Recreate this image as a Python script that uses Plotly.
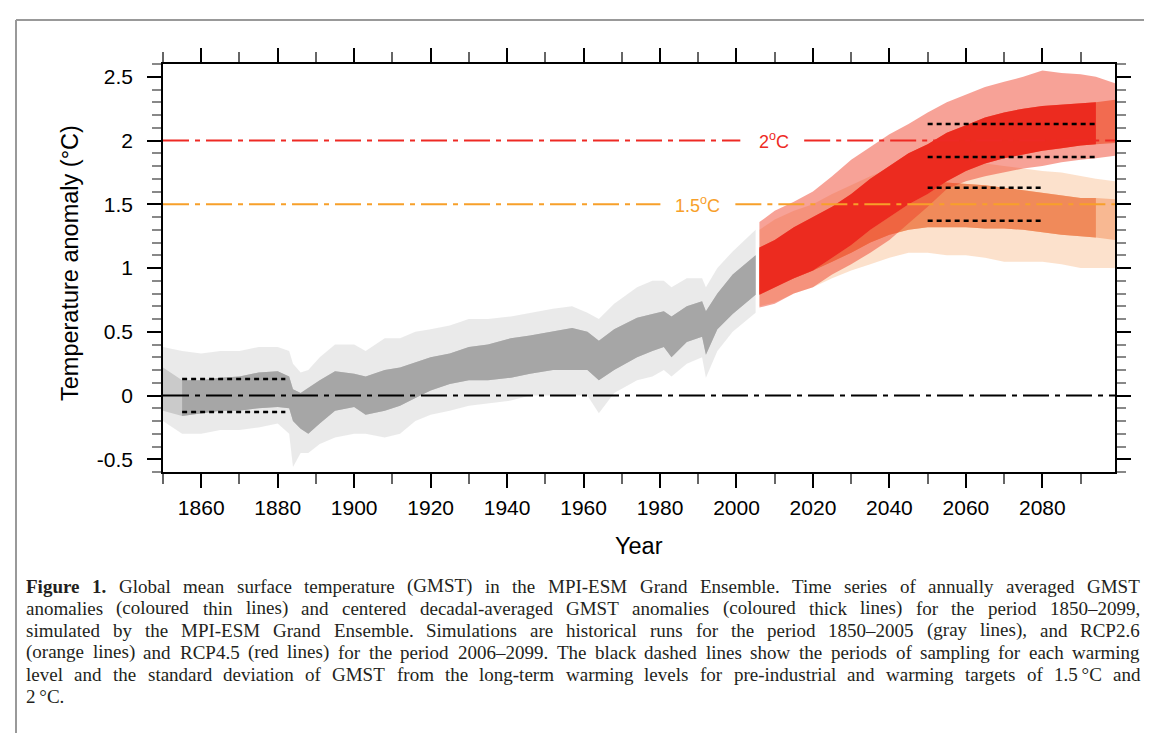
import plotly.graph_objects as go

# ---------------- data ----------------
HIST_YEARS = [1850, 1855, 1860, 1865, 1870, 1875, 1880, 1883, 1884, 1886, 1888, 1891, 1895,
              1900, 1903, 1908, 1912, 1916, 1920, 1925, 1930, 1935, 1941, 1946, 1952,
              1957, 1961, 1964, 1968, 1974, 1978, 1981, 1983, 1987, 1991, 1992, 1995, 1999, 2005]
HIST_CORE_LO = [-0.12, -0.16, -0.14, -0.12, -0.12, -0.10, -0.09, -0.10, -0.20, -0.26, -0.30, -0.22, -0.12,
                -0.09, -0.15, -0.12, -0.08, -0.02, 0.04, 0.09, 0.12, 0.12, 0.14, 0.17, 0.20,
                0.20, 0.20, 0.12, 0.20, 0.30, 0.35, 0.38, 0.30, 0.42, 0.46, 0.32, 0.52, 0.64, 0.79]
HIST_CORE_HI = [0.22, 0.12, 0.12, 0.14, 0.15, 0.18, 0.19, 0.15, 0.05, 0.02, 0.06, 0.12, 0.19,
                0.17, 0.15, 0.20, 0.22, 0.26, 0.30, 0.33, 0.38, 0.40, 0.45, 0.47, 0.50,
                0.53, 0.50, 0.43, 0.52, 0.61, 0.64, 0.66, 0.62, 0.70, 0.74, 0.66, 0.80, 0.95, 1.10]
HIST_OUT_LO = [-0.20, -0.30, -0.30, -0.27, -0.27, -0.25, -0.22, -0.30, -0.56, -0.45, -0.45, -0.38, -0.33,
               -0.30, -0.30, -0.33, -0.30, -0.20, -0.15, -0.12, -0.08, -0.06, -0.04, 0.00, 0.00,
               0.00, 0.00, -0.14, 0.02, 0.12, 0.15, 0.20, 0.15, 0.25, 0.30, 0.14, 0.35, 0.50, 0.65]
HIST_OUT_HI = [0.38, 0.35, 0.33, 0.35, 0.35, 0.38, 0.38, 0.35, 0.25, 0.18, 0.20, 0.30, 0.40,
               0.40, 0.35, 0.45, 0.45, 0.50, 0.52, 0.55, 0.60, 0.60, 0.62, 0.65, 0.68,
               0.70, 0.65, 0.60, 0.72, 0.85, 0.90, 0.90, 0.85, 0.92, 0.92, 0.85, 1.00, 1.13, 1.30]

RCP_YEARS = [2006, 2010, 2015, 2020, 2025, 2030, 2035, 2040, 2045, 2050,
             2055, 2060, 2065, 2070, 2075, 2080, 2085, 2090, 2094, 2099]
RCP45_CORE_LO = [0.79, 0.85, 0.92, 0.98, 1.08, 1.18, 1.30, 1.40, 1.50, 1.58,
                 1.68, 1.76, 1.82, 1.86, 1.89, 1.92, 1.94, 1.96, 1.97, 1.98]
RCP45_CORE_HI = [1.16, 1.22, 1.32, 1.40, 1.48, 1.58, 1.70, 1.80, 1.90, 1.97,
                 2.06, 2.12, 2.18, 2.22, 2.25, 2.27, 2.28, 2.29, 2.30, 2.32]
RCP45_OUT_LO = [0.69, 0.72, 0.80, 0.85, 0.95, 1.03, 1.12, 1.22, 1.35, 1.48,
                1.62, 1.68, 1.72, 1.75, 1.78, 1.80, 1.83, 1.85, 1.86, 1.88]
RCP45_OUT_HI = [1.36, 1.45, 1.52, 1.60, 1.72, 1.85, 1.95, 2.05, 2.13, 2.22,
                2.30, 2.36, 2.42, 2.46, 2.50, 2.55, 2.53, 2.52, 2.50, 2.45]

RCP26_CORE_LO = [0.80, 0.86, 0.92, 0.98, 1.05, 1.12, 1.20, 1.26, 1.30, 1.32,
                 1.32, 1.32, 1.31, 1.31, 1.30, 1.28, 1.26, 1.25, 1.24, 1.22]
RCP26_CORE_HI = [1.15, 1.20, 1.28, 1.35, 1.42, 1.50, 1.58, 1.63, 1.67, 1.68,
                 1.67, 1.66, 1.65, 1.63, 1.61, 1.59, 1.57, 1.55, 1.55, 1.54]
RCP26_OUT_LO = [0.70, 0.73, 0.80, 0.85, 0.92, 0.98, 1.03, 1.08, 1.12, 1.12,
                1.10, 1.10, 1.08, 1.05, 1.05, 1.05, 1.03, 1.00, 1.00, 1.00]
RCP26_OUT_HI = [1.30, 1.38, 1.45, 1.50, 1.58, 1.65, 1.72, 1.78, 1.84, 1.86,
                1.86, 1.85, 1.82, 1.80, 1.78, 1.76, 1.75, 1.72, 1.70, 1.68]

DECADAL_START = 1855
DECADAL_END = 2094

LEVEL_PI, LEVEL_15, LEVEL_20 = 0.0, 1.5, 2.0
STD_DEV = 0.13
PERIOD_PI = (1855, 1882)
PERIOD_15 = (2050, 2080)
PERIOD_20 = (2050, 2094)

X_TICKS = [1860, 1880, 1900, 1920, 1940, 1960, 1980, 2000, 2020, 2040, 2060, 2080]
Y_TICKS = [-0.5, 0, 0.5, 1, 1.5, 2, 2.5]
Y_TICK_TEXT = ["-0.5", "0", "0.5", "1", "1.5", "2", "2.5"]

CAPTION_BOLD = "Figure 1."
CAPTION = [
    "Figure 1. Global mean surface temperature (GMST) in the MPI-ESM Grand Ensemble. Time series of annually averaged GMST",
    "anomalies (coloured thin lines) and centered decadal-averaged GMST anomalies (coloured thick lines) for the period 1850–2099,",
    "simulated by the MPI-ESM Grand Ensemble. Simulations are historical runs for the period 1850–2005 (gray lines), and RCP2.6",
    "(orange lines) and RCP4.5 (red lines) for the period 2006–2099. The black dashed lines show the periods of sampling for each warming",
    "level and the standard deviation of GMST from the long-term warming levels for pre-industrial and warming targets of 1.5\u2009°C and",
    "2\u2009°C.",
]

# ---------------- figure ----------------
W, H = 1152, 733
ML, MR, MT, MB = 155, 45, 56, 269
PW, PH = W - ML - MR, H - MT - MB


def px_x(px):
    return (px - ML) / PW


def px_y(py):
    return (H - MB - py) / PH


fig = go.Figure()


def band(x, lo, hi, color):
    x = list(x)
    fig.add_trace(go.Scatter(
        x=x + x[::-1], y=list(hi) + list(lo)[::-1], fill="toself", fillcolor=color,
        line=dict(width=0), mode="lines", hoverinfo="skip", showlegend=False))


def subset(years, *arrs, lo=None, hi=None):
    idx = [i for i, y in enumerate(years)
           if (lo is None or y >= lo) and (hi is None or y <= hi)]
    return [[years[i] for i in idx]] + [[a[i] for i in idx] for a in arrs]


# historical (gray)
band(HIST_YEARS, HIST_OUT_LO, HIST_OUT_HI, "rgba(180,180,180,0.28)")
band(HIST_YEARS, HIST_CORE_LO, HIST_CORE_HI, "#cacaca")
hx, hl, hh = subset(HIST_YEARS, HIST_CORE_LO, HIST_CORE_HI, lo=DECADAL_START)
band(hx, hl, hh, "#a6a6a6")

# RCP2.6 (orange)
band(RCP_YEARS, RCP26_OUT_LO, RCP26_OUT_HI, "rgba(248,175,120,0.38)")
band(RCP_YEARS, RCP26_CORE_LO, RCP26_CORE_HI, "#f8b892")
ox, ol, oh = subset(RCP_YEARS, RCP26_CORE_LO, RCP26_CORE_HI, hi=DECADAL_END)
band(ox, ol, oh, "#f08a5a")

# RCP4.5 (red)
band(RCP_YEARS, RCP45_OUT_LO, RCP45_OUT_HI, "rgba(238,60,38,0.48)")
band(RCP_YEARS, RCP45_CORE_LO, RCP45_CORE_HI, "#f26b50")
rx, rl, rh = subset(RCP_YEARS, RCP45_CORE_LO, RCP45_CORE_HI, hi=DECADAL_END)
band(rx, rl, rh, "#ec2b1f")

DASHDOT = "26px,6px,5px,6px"
RED = "#ee2a24"
ORANGE = "#f7a02a"


def hline(x0, x1, y, color):
    fig.add_trace(go.Scatter(x=[x0, x1], y=[y, y], mode="lines",
                             line=dict(color=color, width=2, dash=DASHDOT),
                             hoverinfo="skip", showlegend=False))


hline(1850, 2099, LEVEL_PI, "black")
hline(1850, 1980.1, LEVEL_15, ORANGE)
hline(1999.7, 2099, LEVEL_15, ORANGE)
hline(1850, 2001, LEVEL_20, RED)
hline(2017.7, 2099, LEVEL_20, RED)

for (p0, p1), lev in [(PERIOD_PI, LEVEL_PI), (PERIOD_15, LEVEL_15), (PERIOD_20, LEVEL_20)]:
    for s in (+1, -1):
        fig.add_trace(go.Scatter(x=[p0, p1], y=[lev + s * STD_DEV] * 2, mode="lines",
                                 line=dict(color="black", width=2.5, dash="5px,4px"),
                                 hoverinfo="skip", showlegend=False))

annotations = [
    dict(x=1989.8, y=LEVEL_15, xref="x", yref="y", text="1.5<sup>o</sup>C", showarrow=False,
         font=dict(family="Liberation Sans", size=18, color=ORANGE), xanchor="center", yanchor="middle"),
    dict(x=2009.8, y=LEVEL_20, xref="x", yref="y", text="2<sup>o</sup>C", showarrow=False,
         font=dict(family="Liberation Sans", size=18, color=RED), xanchor="center", yanchor="middle"),
    dict(x=0.5, y=px_y(538), xref="paper", yref="paper", text="Year", showarrow=False,
         font=dict(family="Liberation Sans", size=23.5, color="black"), xanchor="center", yanchor="middle"),
    dict(x=px_x(62), y=px_y(255), xref="paper", yref="paper", text="Temperature anomaly (°C)",
         showarrow=False, textangle=-90,
         font=dict(family="Liberation Sans", size=23.5, color="black"), xanchor="center", yanchor="middle"),
]

# ---- justified caption (Times metrics, Liberation Serif is metric compatible) ----
TIMES = {
    'a': .444, 'b': .5, 'c': .444, 'd': .5, 'e': .444, 'f': .333, 'g': .5, 'h': .5, 'i': .278, 'j': .278,
    'k': .5, 'l': .278, 'm': .778, 'n': .5, 'o': .5, 'p': .5, 'q': .5, 'r': .333, 's': .389, 't': .278,
    'u': .5, 'v': .5, 'w': .722, 'x': .5, 'y': .5, 'z': .444,
    'A': .722, 'B': .667, 'C': .667, 'D': .722, 'E': .611, 'F': .556, 'G': .722, 'H': .722, 'I': .333,
    'J': .389, 'K': .722, 'L': .611, 'M': .889, 'N': .722, 'O': .722, 'P': .556, 'Q': .722, 'R': .667,
    'S': .556, 'T': .611, 'U': .722, 'V': .722, 'W': .944, 'X': .722, 'Y': .722, 'Z': .611,
    '.': .25, ',': .25, '-': .333, '–': .5, '(': .333, ')': .333, '°': .4, ':': .278, '\u2009': .167,
}
TIMES_BOLD = {'F': .611, 'i': .278, 'g': .5, 'u': .556, 'r': .444, 'e': .444, '1': .5, '.': .25}
CAP_SIZE = 19
CAP_X0, CAP_X1 = 18, 1132
cap_y = [578, 600, 622, 644, 666, 688]
bold_words = CAPTION_BOLD.split()


def word_width(word, bold):
    table = TIMES_BOLD if bold else TIMES
    return sum(table.get(ch, TIMES.get(ch, .5)) for ch in word) * CAP_SIZE


for li, (line, py) in enumerate(zip(CAPTION, cap_y)):
    words = line.split(" ")
    flags = [li == 0 and wi < len(bold_words) for wi in range(len(words))]
    widths = [word_width(w, b) for w, b in zip(words, flags)]
    last = li == len(CAPTION) - 1
    gap = 0.25 * CAP_SIZE if last else (CAP_X1 - CAP_X0 - sum(widths)) / (len(words) - 1)
    x = CAP_X0
    for w, b, ww in zip(words, flags, widths):
        annotations.append(dict(x=px_x(x), y=px_y(py), xref="paper", yref="paper",
                                text=f"<b>{w}</b>" if b else w, showarrow=False,
                                xanchor="left", yanchor="middle", borderpad=0, borderwidth=0,
                                font=dict(family="Liberation Serif", size=CAP_SIZE, color="#231f20")))
        x += ww + gap

shapes = [
    dict(type="line", xref="paper", yref="paper", x0=px_x(8), x1=px_x(W + 5), y0=px_y(12), y1=px_y(12),
         line=dict(color="#999999", width=2)),
    dict(type="line", xref="paper", yref="paper", x0=px_x(8), x1=px_x(8), y0=px_y(12), y1=px_y(H + 5),
         line=dict(color="#999999", width=2)),
]

axis_common = dict(showgrid=False, zeroline=False, showline=True, linecolor="black", linewidth=1.5,
                   ticks="outside", ticklen=14, tickwidth=1.5, tickcolor="black", mirror="ticks",
                   tickfont=dict(family="Liberation Sans", size=21, color="black"))

fig.update_layout(
    width=W, height=H, margin=dict(l=ML, r=MR, t=MT, b=MB),
    paper_bgcolor="white", plot_bgcolor="white", showlegend=False,
    xaxis=dict(range=[1850, 2099], tickmode="array", tickvals=X_TICKS,
               minor=dict(tickmode="linear", tick0=1850, dtick=10, ticklen=10, tickwidth=1.5,
                          tickcolor="#666666", ticks="outside"),
               ticklabelstandoff=2, **axis_common),
    yaxis=dict(range=[-0.6, 2.6], tickmode="array", tickvals=Y_TICKS, ticktext=Y_TICK_TEXT,
               minor=dict(tickmode="linear", tick0=0, dtick=0.1, ticklen=9, tickwidth=1.5,
                          tickcolor="#888888", ticks="outside"),
               ticklabelstandoff=10, **axis_common),
    annotations=annotations, shapes=shapes,
)

fig.write_html("out.html")
